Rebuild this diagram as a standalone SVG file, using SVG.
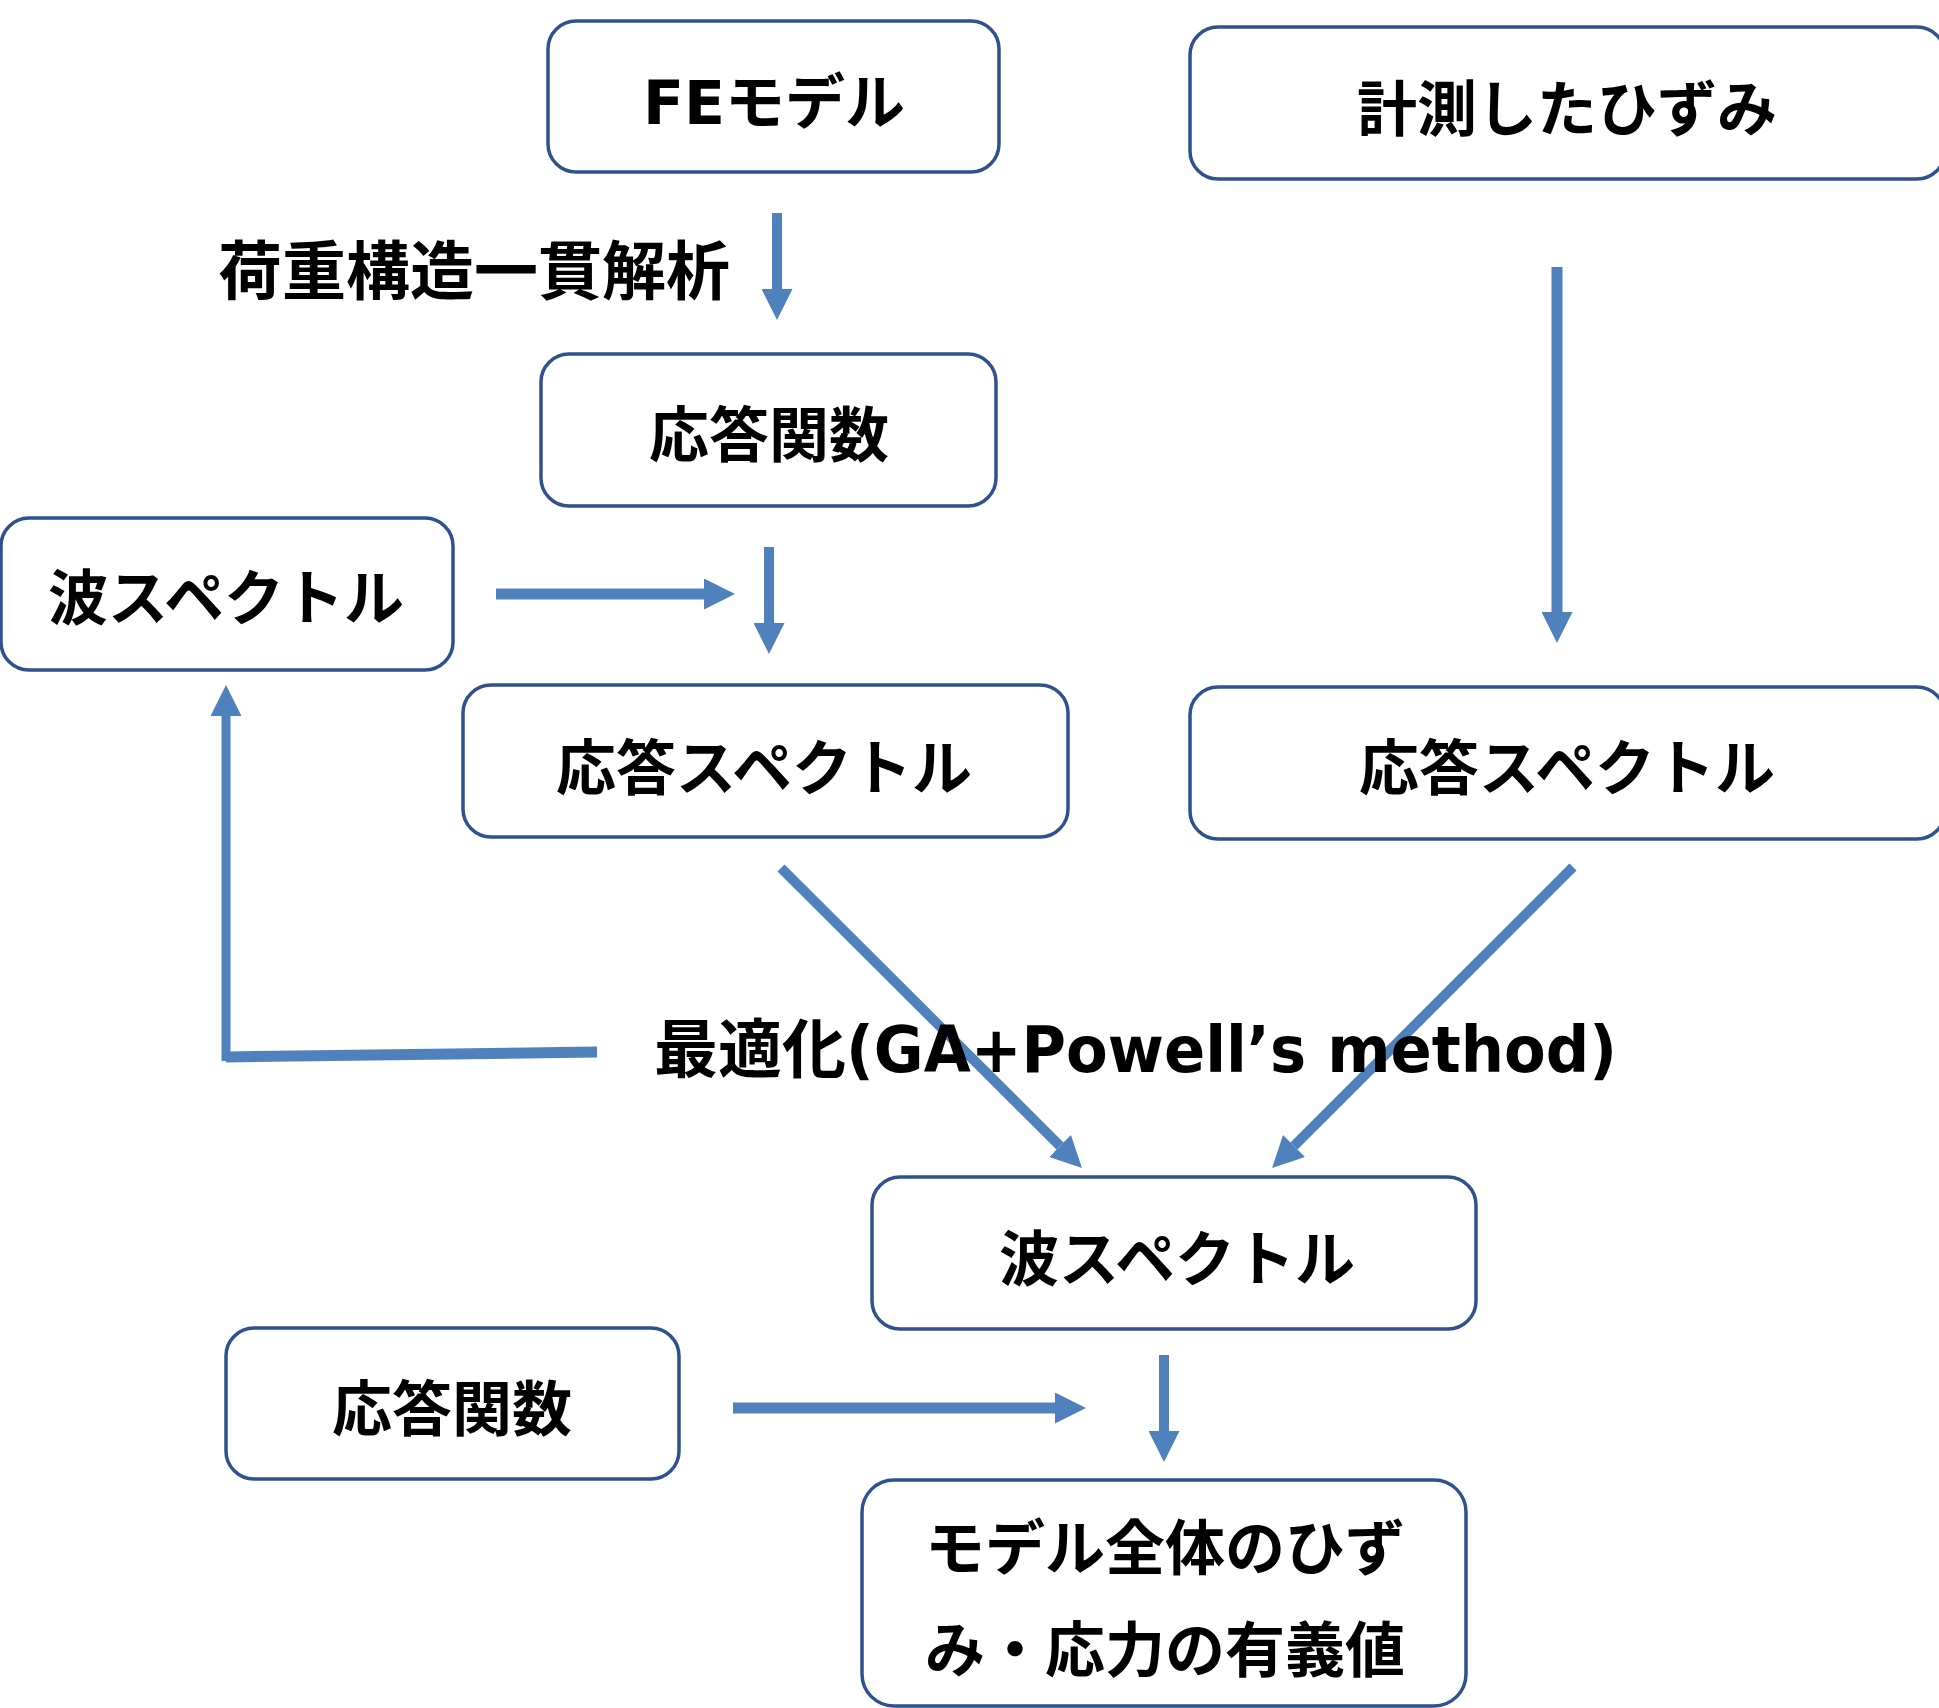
<svg xmlns="http://www.w3.org/2000/svg" width="1939" height="1708" viewBox="0 0 1939 1708">
  <style>
    .box { fill: #ffffff; stroke: #2F528F; stroke-width: 3.5; }
    .lbl { font-family: "DejaVu Sans", "Noto Sans CJK JP", sans-serif; font-weight: bold; font-size: 60px; fill: #000000; text-anchor: middle; }
    .jp { font-family: "Noto Sans CJK JP", sans-serif; font-weight: bold; fill: #000000; }
    .lat { font-family: "DejaVu Sans", sans-serif; font-weight: bold; fill: #000000; }
    .conn { stroke: #4F81BD; fill: none; stroke-linecap: butt; }
  </style>
  <defs>
    <marker id="head" viewBox="0 0 31 31" markerWidth="31" markerHeight="31" refX="0" refY="15.5" orient="auto" markerUnits="userSpaceOnUse">
      <path d="M0,0 L31,15.5 L0,31 Z" fill="#4F81BD"/>
    </marker>
  </defs>
  <rect width="1939" height="1708" fill="#ffffff"/>

  <!-- connectors -->
  <g id="connectors">
    <line class="conn" x1="777" y1="213" x2="777" y2="289" stroke-width="10" marker-end="url(#head)"/>
    <line class="conn" x1="1557" y1="267" x2="1557" y2="612" stroke-width="11" marker-end="url(#head)"/>
    <line class="conn" x1="496" y1="594" x2="704" y2="594" stroke-width="11" marker-end="url(#head)"/>
    <line class="conn" x1="769" y1="547" x2="769" y2="623" stroke-width="10" marker-end="url(#head)"/>
    <line class="conn" x1="597" y1="1052" x2="226" y2="1057" stroke-width="11"/>
    <line class="conn" x1="226" y1="1061" x2="226" y2="716" stroke-width="9" marker-end="url(#head)"/>
    <line class="conn" x1="781" y1="868" x2="1060" y2="1146" stroke-width="10" marker-end="url(#head)"/>
    <line class="conn" x1="1573" y1="867" x2="1294" y2="1146" stroke-width="10" marker-end="url(#head)"/>
    <line class="conn" x1="733" y1="1408" x2="1055" y2="1408" stroke-width="11" marker-end="url(#head)"/>
    <line class="conn" x1="1164" y1="1355" x2="1164" y2="1431" stroke-width="10" marker-end="url(#head)"/>
  </g>

  <!-- free label on the analysis step -->
  <g id="label-analysis">
    <text class="jp" x="218" y="294" font-size="64">荷重構造一貫解析</text>
  </g>

  <!-- free label on the optimisation loop -->
  <g id="label-optimisation">
    <text class="jp" x="654" y="1072" font-size="64">最適化</text>
    <text class="lat" x="846" y="1072" font-size="64" textLength="771" lengthAdjust="spacingAndGlyphs">(GA+Powell’s method)</text>
  </g>

  <g id="node-fe-model">
    <rect class="box" x="548" y="21" width="451" height="151" rx="28"/>
    <text class="lbl" x="774" y="124">FEモデル</text>
  </g>

  <g id="node-measured-strain">
    <rect class="box" x="1190" y="27" width="755" height="152" rx="28"/>
    <text class="lbl" x="1567" y="131">計測したひずみ</text>
  </g>

  <g id="node-rao-top">
    <rect class="box" x="541" y="354" width="455" height="152" rx="28"/>
    <text class="lbl" x="769" y="457">応答関数</text>
  </g>

  <g id="node-wave-left">
    <rect class="box" x="1" y="518" width="452" height="152" rx="28"/>
    <text class="lbl" x="226" y="620">波スペクトル</text>
  </g>

  <g id="node-response-left">
    <rect class="box" x="463" y="685" width="605" height="152" rx="28"/>
    <text class="lbl" x="764" y="790">応答スペクトル</text>
  </g>

  <g id="node-response-right">
    <rect class="box" x="1190" y="687" width="755" height="152" rx="28"/>
    <text class="lbl" x="1567" y="790">応答スペクトル</text>
  </g>

  <g id="node-wave-bottom">
    <rect class="box" x="872" y="1177" width="604" height="152" rx="28"/>
    <text class="lbl" x="1177" y="1281">波スペクトル</text>
  </g>

  <g id="node-rao-bottom">
    <rect class="box" x="226" y="1328" width="453" height="151" rx="28"/>
    <text class="lbl" x="452" y="1431">応答関数</text>
  </g>

  <g id="node-result">
    <rect class="box" x="862" y="1480" width="604" height="226" rx="32"/>
    <text class="lbl" x="1165" y="1570">モデル全体のひず</text>
    <text class="lbl" x="1165" y="1672">み・応力の有義値</text>
  </g>
</svg>
